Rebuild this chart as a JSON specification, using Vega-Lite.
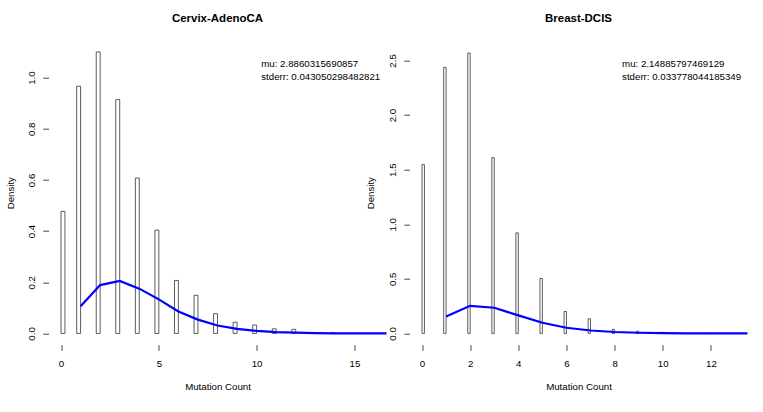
{
  "$schema": "https://vega.github.io/schema/vega-lite/v6.json",
  "background": "white",
  "padding": {"left": 4.5, "top": 12.7, "right": 0, "bottom": 0},
  "config": {
    "view": {"stroke": null},
    "font": "Liberation Sans",
    "axis": {
      "grid": false,
      "domain": false,
      "tickColor": "#444",
      "tickSize": 5.7,
      "labelColor": "black",
      "labelFontSize": 9.7,
      "labelFont": "Liberation Sans",
      "titleColor": "black",
      "titleFontSize": 9.7,
      "titleFont": "Liberation Sans",
      "titleFontWeight": "normal",
      "labelOverlap": false,
      "labelFlush": false
    },
    "axisX": {"labelPadding": 8.5, "titlePadding": 12.6},
    "axisY": {"labelAngle": -90, "labelAlign": "center", "labelBaseline": "bottom", "labelPadding": 6.5, "titlePadding": 11.3}
  },
  "bounds": "flush",
  "spacing": 23,
  "datasets": {
    "cervix_bins": [
      {"count": 0, "lo": 0.0, "hi": 0.2, "density": 0.477},
      {"count": 1, "lo": 0.8, "hi": 1.0, "density": 0.966},
      {"count": 2, "lo": 1.8, "hi": 2.0, "density": 1.100},
      {"count": 3, "lo": 2.8, "hi": 3.0, "density": 0.914},
      {"count": 4, "lo": 3.8, "hi": 4.0, "density": 0.607},
      {"count": 5, "lo": 4.8, "hi": 5.0, "density": 0.404},
      {"count": 6, "lo": 5.8, "hi": 6.0, "density": 0.207},
      {"count": 7, "lo": 6.8, "hi": 7.0, "density": 0.149},
      {"count": 8, "lo": 7.8, "hi": 8.0, "density": 0.077},
      {"count": 9, "lo": 8.8, "hi": 9.0, "density": 0.044},
      {"count": 10, "lo": 9.8, "hi": 10.0, "density": 0.033},
      {"count": 11, "lo": 10.8, "hi": 11.0, "density": 0.018},
      {"count": 12, "lo": 11.8, "hi": 12.0, "density": 0.016},
      {"count": 14, "lo": 13.8, "hi": 14.0, "density": 0.003}
    ],
    "cervix_fit": [
      {"count": 1, "density": 0.106},
      {"count": 2, "density": 0.189},
      {"count": 3, "density": 0.205},
      {"count": 4, "density": 0.175},
      {"count": 5, "density": 0.133},
      {"count": 6, "density": 0.086},
      {"count": 7, "density": 0.054},
      {"count": 8, "density": 0.031},
      {"count": 9, "density": 0.018},
      {"count": 10, "density": 0.010},
      {"count": 11, "density": 0.005},
      {"count": 12, "density": 0.003},
      {"count": 13, "density": 0.001},
      {"count": 14, "density": 0.0005},
      {"count": 15, "density": 0.0002},
      {"count": 16, "density": 0.0001},
      {"count": 17, "density": 0.00005}
    ],
    "breast_bins": [
      {"count": 0, "lo": 0.0, "hi": 0.1, "density": 1.546},
      {"count": 1, "lo": 0.9, "hi": 1.0, "density": 2.437},
      {"count": 2, "lo": 1.9, "hi": 2.0, "density": 2.568},
      {"count": 3, "lo": 2.9, "hi": 3.0, "density": 1.610},
      {"count": 4, "lo": 3.9, "hi": 4.0, "density": 0.921},
      {"count": 5, "lo": 4.9, "hi": 5.0, "density": 0.503},
      {"count": 6, "lo": 5.9, "hi": 6.0, "density": 0.201},
      {"count": 7, "lo": 6.9, "hi": 7.0, "density": 0.134},
      {"count": 8, "lo": 7.9, "hi": 8.0, "density": 0.037},
      {"count": 9, "lo": 8.9, "hi": 9.0, "density": 0.020},
      {"count": 10, "lo": 9.9, "hi": 10.0, "density": 0.010},
      {"count": 12, "lo": 11.9, "hi": 12.0, "density": 0.003}
    ],
    "breast_fit": [
      {"count": 1, "density": 0.156},
      {"count": 2, "density": 0.253},
      {"count": 3, "density": 0.235},
      {"count": 4, "density": 0.165},
      {"count": 5, "density": 0.098},
      {"count": 6, "density": 0.052},
      {"count": 7, "density": 0.027},
      {"count": 8, "density": 0.013},
      {"count": 9, "density": 0.006},
      {"count": 10, "density": 0.003},
      {"count": 11, "density": 0.001},
      {"count": 12, "density": 0.0005},
      {"count": 13, "density": 0.0002},
      {"count": 14, "density": 0.0001}
    ]
  },
  "hconcat": [
    {
      "width": 338,
      "height": 304,
      "title": {"text": "Cervix-AdenoCA", "fontSize": 11.5, "fontWeight": "bold", "font": "Liberation Sans", "color": "black", "anchor": "middle", "frame": "group", "baseline": "alphabetic", "offset": 7.5},
      "layer": [
        {
          "data": {"name": "cervix_bins"},
          "mark": {"type": "rect", "fill": "transparent", "stroke": "#333", "strokeWidth": 0.8},
          "encoding": {
            "x": {"field": "lo", "type": "quantitative", "title": "Mutation Count",
                  "scale": {"domain": [-0.64, 16.64], "nice": false, "zero": false},
                  "axis": {"values": [0, 5, 10, 15], "format": "d"}},
            "x2": {"field": "hi"},
            "y": {"field": "density", "type": "quantitative", "title": "Density",
                  "scale": {"domain": [-0.044, 1.144], "nice": false, "zero": false},
                  "axis": {"values": [0, 0.2, 0.4, 0.6, 0.8, 1.0], "format": ".1f"}},
            "y2": {"datum": 0}
          }
        },
        {
          "mark": {"type": "rule", "color": "#444", "strokeWidth": 0.8},
          "encoding": {"x": {"datum": 0}, "x2": {"datum": 14}, "y": {"datum": 0}}
        },
        {
          "mark": {"type": "rule", "color": "#444", "strokeWidth": 1},
          "encoding": {"x": {"datum": 0}, "x2": {"datum": 15}, "y": {"datum": -0.044}}
        },
        {
          "mark": {"type": "rule", "color": "#444", "strokeWidth": 1},
          "encoding": {"x": {"datum": -0.64}, "y": {"datum": 0}, "y2": {"datum": 1.0}}
        },
        {
          "data": {"name": "cervix_fit"},
          "mark": {"type": "line", "color": "#0000ff", "strokeWidth": 2.2, "clip": true},
          "encoding": {
            "x": {"field": "count", "type": "quantitative", "title": "Mutation Count"},
            "y": {"field": "density", "type": "quantitative", "title": "Density"}
          }
        },
        {
          "data": {"values": [{"label": "mu: 2.8860315690857"}]},
          "mark": {"type": "text", "align": "left", "baseline": "middle", "fontSize": 9.7, "font": "Liberation Sans", "color": "black"},
          "encoding": {"x": {"datum": 10.235}, "y": {"datum": 1.0516}, "text": {"field": "label", "type": "nominal"}}
        },
        {
          "data": {"values": [{"label": "stderr: 0.043050298482821"}]},
          "mark": {"type": "text", "align": "left", "baseline": "middle", "fontSize": 9.7, "font": "Liberation Sans", "color": "black"},
          "encoding": {"x": {"datum": 10.235}, "y": {"datum": 1.002}, "text": {"field": "label", "type": "nominal"}}
        }
      ]
    },
    {
      "width": 338,
      "height": 304,
      "title": {"text": "Breast-DCIS", "fontSize": 11.5, "fontWeight": "bold", "font": "Liberation Sans", "color": "black", "anchor": "middle", "frame": "group", "baseline": "alphabetic", "offset": 7.5},
      "layer": [
        {
          "data": {"name": "breast_bins"},
          "mark": {"type": "rect", "fill": "transparent", "stroke": "#333", "strokeWidth": 0.8},
          "encoding": {
            "x": {"field": "lo", "type": "quantitative", "title": "Mutation Count",
                  "scale": {"domain": [-0.52, 13.52], "nice": false, "zero": false},
                  "axis": {"values": [0, 2, 4, 6, 8, 10, 12], "format": "d"}},
            "x2": {"field": "hi"},
            "y": {"field": "density", "type": "quantitative", "title": "Density",
                  "scale": {"domain": [-0.1032, 2.681], "nice": false, "zero": false},
                  "axis": {"values": [0, 0.5, 1.0, 1.5, 2.0, 2.5], "format": ".1f"}},
            "y2": {"datum": 0}
          }
        },
        {
          "mark": {"type": "rule", "color": "#444", "strokeWidth": 0.8},
          "encoding": {"x": {"datum": 0}, "x2": {"datum": 12}, "y": {"datum": 0}}
        },
        {
          "mark": {"type": "rule", "color": "#444", "strokeWidth": 1},
          "encoding": {"x": {"datum": 0}, "x2": {"datum": 12}, "y": {"datum": -0.1032}}
        },
        {
          "mark": {"type": "rule", "color": "#444", "strokeWidth": 1},
          "encoding": {"x": {"datum": -0.52}, "y": {"datum": 0}, "y2": {"datum": 2.5}}
        },
        {
          "data": {"name": "breast_fit"},
          "mark": {"type": "line", "color": "#0000ff", "strokeWidth": 2.2, "clip": true},
          "encoding": {
            "x": {"field": "count", "type": "quantitative", "title": "Mutation Count"},
            "y": {"field": "density", "type": "quantitative", "title": "Density"}
          }
        },
        {
          "data": {"values": [{"label": "mu: 2.14885797469129"}]},
          "mark": {"type": "text", "align": "left", "baseline": "middle", "fontSize": 9.7, "font": "Liberation Sans", "color": "black"},
          "encoding": {"x": {"datum": 8.31}, "y": {"datum": 2.465}, "text": {"field": "label", "type": "nominal"}}
        },
        {
          "data": {"values": [{"label": "stderr: 0.033778044185349"}]},
          "mark": {"type": "text", "align": "left", "baseline": "middle", "fontSize": 9.7, "font": "Liberation Sans", "color": "black"},
          "encoding": {"x": {"datum": 8.31}, "y": {"datum": 2.348}, "text": {"field": "label", "type": "nominal"}}
        }
      ]
    }
  ]
}
